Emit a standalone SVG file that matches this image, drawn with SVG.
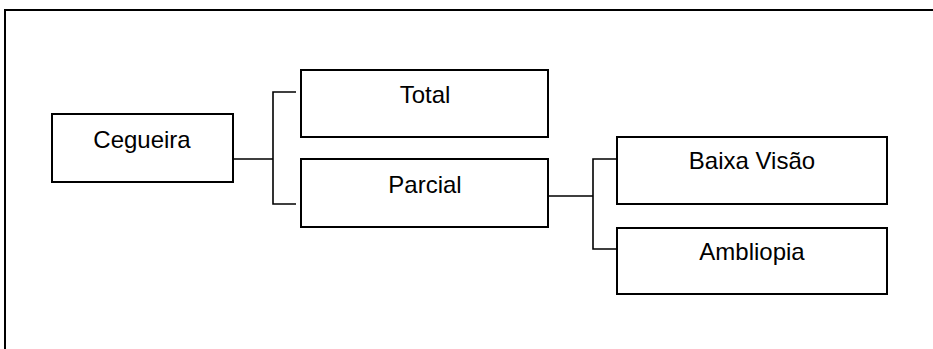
<svg xmlns="http://www.w3.org/2000/svg" width="933" height="349" viewBox="0 0 933 349">
<style>
.box{fill:#fff;stroke:#000;stroke-width:2}
.lbl{font-family:"Liberation Sans",Arial,sans-serif;font-size:24px;fill:#000;text-anchor:middle}
.con{fill:none;stroke:#000;stroke-width:1.6}
.frame{fill:none;stroke:#000;stroke-width:2}
</style>
<rect width="933" height="349" fill="#fff"/>
<path class="frame" d="M5,349 V10 H933"/>
<g id="connectors">
<path class="con" d="M233,159 H273 M296,92 H273 V204 H296"/>
<path class="con" d="M548,196 H593 M616,159 H593 V249 H616"/>
</g>
<g id="cegueira"><rect class="box" x="52" y="114" width="181" height="68"/><text class="lbl" x="142" y="148">Cegueira</text></g>
<g id="total"><rect class="box" x="301" y="70" width="247" height="67"/><text class="lbl" x="425" y="103">Total</text></g>
<g id="parcial"><rect class="box" x="301" y="159" width="247" height="68"/><text class="lbl" x="425" y="193">Parcial</text></g>
<g id="baixa-visao"><rect class="box" x="617" y="137" width="270" height="67"/><text class="lbl" x="752" y="169">Baixa Visão</text></g>
<g id="ambliopia"><rect class="box" x="617" y="228" width="270" height="66"/><text class="lbl" x="752" y="260">Ambliopia</text></g>
</svg>
